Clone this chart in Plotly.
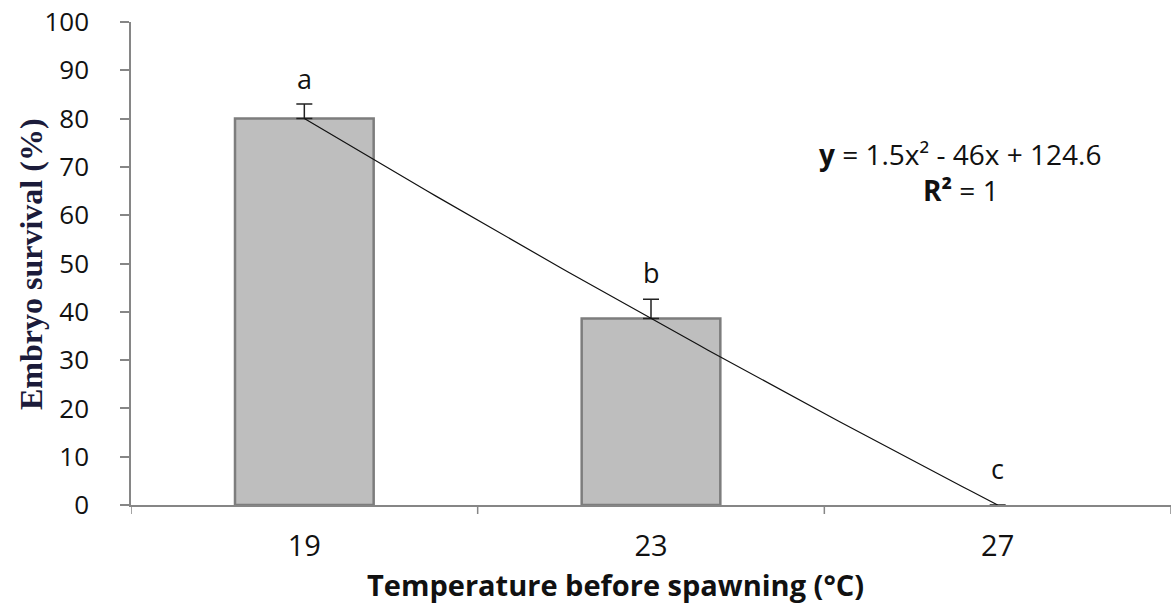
import numpy as np
import plotly.graph_objects as go

categories = ["19", "23", "27"]
survival = [80.0, 38.6, 0.0]
error_plus = [3.0, 4.0, 0.0]
letters = ["a", "b", "c"]
y_ticks = [0, 10, 20, 30, 40, 50, 60, 70, 80, 90, 100]

FONT = "Open Sans"
# plot area spans x 131..1171, y 22..505 (page pixels)
PW, PH = 1040, 483

def px(X):
    return (X - 131) / PW

def py(Y):
    return (505 - Y) / PH

# polynomial (order 2) trendline fitted on the bar values, as in the source chart
idx = np.arange(1, len(survival) + 1)
coef = np.polyfit(idx, survival, 2)
xs = np.linspace(1, len(survival), 80)
ys = np.polyval(coef, xs)

fig = go.Figure()
fig.add_trace(go.Bar(
    x=[0, 1, 2], y=survival, width=0.40,
    marker=dict(color="#BEBEBE", line=dict(color="#7D7D7D", width=[2.5, 2.5, 0])),
    error_y=dict(type="data", symmetric=False, array=error_plus,
                 arrayminus=[0, 0, 0], color="#222222", thickness=1.5, width=8),
    showlegend=False, hoverinfo="skip",
))
fig.add_trace(go.Scatter(
    x=xs - 1, y=ys, mode="lines",
    line=dict(color="#111111", width=1.2), showlegend=False,
))

letter_shift = [26, 27, 37]
for i, (lab, v, e) in enumerate(zip(letters, survival, error_plus)):
    fig.add_annotation(x=i, y=v + e, text=lab, showarrow=False, yanchor="middle",
                       yshift=letter_shift[i],
                       font=dict(family=FONT, size=27, color="#111111"))

fig.add_annotation(x=px(960), y=py(154), xref="paper", yref="paper",
                   text="<b>y</b> = 1.5x² - 46x + 124.6", showarrow=False,
                   xanchor="center", yanchor="middle",
                   font=dict(family=FONT, size=28, color="#111111"))
fig.add_annotation(x=px(961), y=py(190), xref="paper", yref="paper",
                   text="<b>R²</b> = 1", showarrow=False,
                   xanchor="center", yanchor="middle",
                   font=dict(family=FONT, size=28, color="#111111"))

fig.add_annotation(x=px(31), y=py(264), xref="paper", yref="paper",
                   text="<b>Embryo survival (%)</b>", textangle=-90, showarrow=False,
                   xanchor="center", yanchor="middle",
                   font=dict(family="Liberation Serif", size=32, color="#1B1B3A"))
fig.add_annotation(x=px(615), y=py(584), xref="paper", yref="paper",
                   text="<b>Temperature before spawning (°C)</b>", showarrow=False,
                   xanchor="center", yanchor="middle",
                   font=dict(family=FONT, size=29, color="#111111"))

fig.update_layout(
    width=1175, height=610,
    margin=dict(l=131, r=4, t=22, b=105),
    paper_bgcolor="white", plot_bgcolor="white",
    font=dict(family=FONT, size=26, color="#111111"),
    xaxis=dict(
        range=[-0.5, 2.5], tickmode="array", tickvals=[0, 1, 2], ticktext=categories,
        showline=True, linecolor="#868686", linewidth=1.5,
        ticks="", showgrid=False, zeroline=False,
        tickfont=dict(size=29), ticklabelstandoff=14,
    ),
    yaxis=dict(
        range=[0, 100], tickmode="array", tickvals=y_ticks,
        showline=True, linecolor="#868686", linewidth=1.5,
        ticks="outside", ticklen=9, tickcolor="#868686", tickwidth=1.5,
        showgrid=False, zeroline=False,
        tickfont=dict(size=26), ticklabelstandoff=26,
    ),
)
# x-axis boundary ticks between categories
for b in [-0.5, 0.5, 1.5, 2.5]:
    fig.add_shape(type="line", xref="x", yref="paper", x0=b, x1=b, y0=0, y1=-9 / PH,
                  line=dict(color="#868686", width=1.5))

fig.write_html("out.html", config={"displayModeBar": False},
               post_script="document.body.style.margin='0';")
